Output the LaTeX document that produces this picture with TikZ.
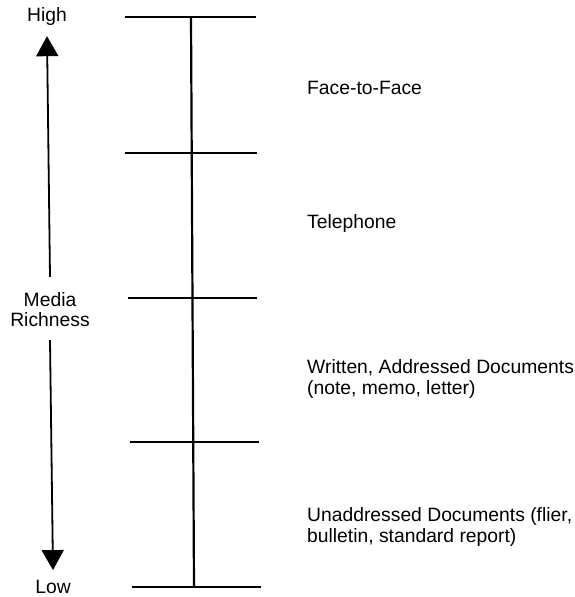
\documentclass[tikz,border=0pt]{standalone}
\usepackage{fontspec}
\setmainfont{Liberation Sans}
\usetikzlibrary{arrows.meta}
\begin{document}
\begin{tikzpicture}[x=1pt,y=-1pt,
  tick/.style={line width=2.2pt},
  axis/.style={line width=2.2pt},
  rich/.style={line width=1.8pt,-{Triangle[width=22pt,length=20pt]}},
  lbl/.style={font=\fontsize{19.3}{20.5}\selectfont,inner sep=0pt,anchor=west,align=left},
  end/.style={font=\fontsize{19.3}{20.5}\selectfont,inner sep=0pt,align=center}]
\useasboundingbox (0,0) rectangle (574,597);
% ticks
\coordinate (a1) at (125,17);  \coordinate (b1) at (256,17);
\coordinate (a2) at (125,153); \coordinate (b2) at (257,153);
\coordinate (a3) at (128,298); \coordinate (b3) at (257,298);
\coordinate (a4) at (130,442); \coordinate (b4) at (259,442);
\coordinate (a5) at (132,587); \coordinate (b5) at (261,587);
\coordinate (top) at (191,17);
\coordinate (bot) at (194,587);
\draw[tick] (a1) -- (b1);
\draw[tick] (a2) -- (b2);
\draw[tick] (a3) -- (b3);
\draw[tick] (a4) -- (b4);
\draw[tick] (a5) -- (b5);
\draw[axis] (top) -- (bot);
% labels
\node[lbl] (f2f) at (307,88) {Face-to-Face};
\node[lbl] (tel) at (307,224) {Telephone};
\node[lbl] (wad) at (307,379) {Written, Addressed Documents\\(note, memo, letter)};
\node[lbl] (uad) at (307,527) {Unaddressed Documents (flier,\\bulletin, standard report)};
% media richness
\node[end] (high) at (47,17) {High};
\node[end] (low) at (53,587) {Low};
\node[end] (media) at (50,309.5) {Media\\Richness};
\draw[rich] ([yshift=15pt]media.north) -- ([yshift=-10pt]high.south);
\draw[rich] ([yshift=-13pt]media.south) -- ([yshift=10pt]low.north);
\end{tikzpicture}
\end{document}
